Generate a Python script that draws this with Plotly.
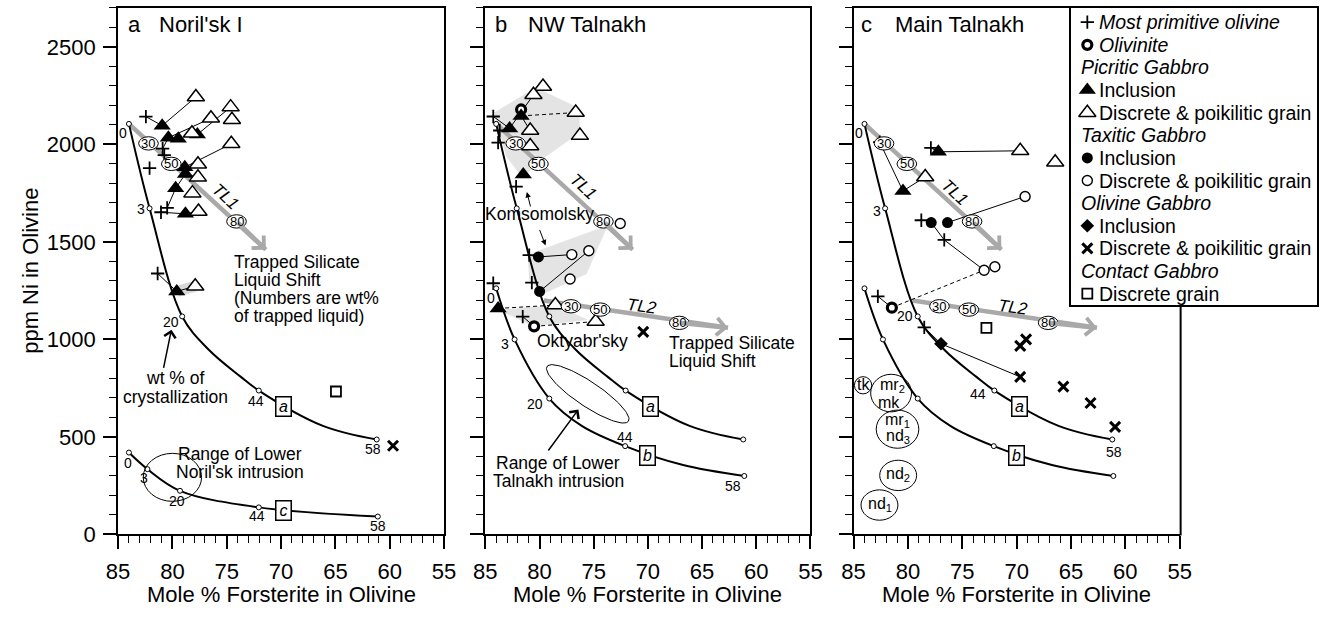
import numpy as np
import plotly.graph_objects as go

# ---------------- geometry of the page ----------------
W, H = 1336, 617
TOP_PX, BOTTOM_PX = 8, 546
PANEL_PX = [(108, 440), (482, 813), (857, 1189)]
LEGEND_PX = (1078, 1329, 8, 312)
FO_MAX, FO_MIN = 85, 55
NI_MAX = 2700
FONT = "Liberation Sans, Arial, Helvetica, sans-serif"

# ---------------- model crystallization curves ----------------
curve_a_fo = [84.0, 82.1, 79.1, 76.7, 73.7, 72.05, 66.15, 61.2]
curve_a_ni = [2105, 1672, 1118, 950, 808, 738, 557, 487]
curve_a_node_fo = [84.0, 82.1, 79.1, 72.05, 61.2]
curve_a_node_ni = [2105, 1672, 1118, 738, 487]
curve_b_fo = [84.0, 82.3, 79.1, 76.1, 72.1, 66.75, 61.1]
curve_b_ni = [1262, 1000, 697, 557, 453, 356, 300]
curve_b_node_fo = [84.0, 82.3, 79.1, 72.1, 61.1]
curve_b_node_ni = [1262, 1000, 697, 453, 300]
curve_c_fo = [84.0, 82.3, 79.3, 72.05, 61.1]
curve_c_ni = [420, 335, 224, 139, 92]
cryst_labels = ["0", "3", "20", "44", "58"]
curve_box_fo = {"a": 69.75, "b": 70.05, "c": 69.8}
curve_box_ni = {"a": 655, "b": 405, "c": 124}

# trapped liquid shift vectors
tl1_fo = [84.0, 71.4]
tl1_ni = [2105, 1460]
tl1_lab_fo = [82.2, 80.1, 74.1]
tl1_lab_ni = [2005, 1900, 1605]
tl2_fo = [79.6, 62.6]
tl2_ni = [1200, 1060]
tl2_lab_fo = [77.1, 74.4, 67.1]
tl2_lab_ni = [1170, 1153, 1085]
tl_labels = ["30", "50", "80"]

# ---------------- panel a: Noril'sk I ----------------
a_plus_fo = [82.44, 80.9, 80.75, 82.1, 81.05, 80.48, 81.36]
a_plus_ni = [2142, 1978, 1945, 1878, 1652, 1674, 1338]
a_pic_inc_fo = [80.94, 80.37, 79.46, 77.7, 78.86, 78.8, 79.7, 78.8, 79.6]
a_pic_inc_ni = [2096, 2034, 2029, 2051, 1883, 1848, 1775, 1644, 1246]
a_pic_dis_fo = [77.84, 74.64, 74.52, 76.45, 78.2, 74.58, 77.65, 77.65, 78.16, 77.6, 77.9]
a_pic_dis_ni = [2243, 2191, 2126, 2134, 2057, 2003, 1898, 1831, 1750, 1656, 1273]
a_ol_dis_fo = [59.7]
a_ol_dis_ni = [455]
a_con_fo = [64.95]
a_con_ni = [733]
a_links = [
    [(82.44, 2142), (80.94, 2096), (77.84, 2243)],
    [(80.9, 1978), (80.37, 2034), (76.45, 2134)],
    [(77.7, 2051), (74.64, 2191)],
    [(78.86, 1883), (74.58, 2003)],
    [(80.48, 1674), (79.7, 1775), (78.8, 1848), (77.65, 1831)],
    [(81.05, 1652), (78.8, 1644), (77.6, 1656)],
    [(81.36, 1338), (79.6, 1246), (77.9, 1273)],
]
a_band = [(79.6, 1246), (77.9, 1273)]

# ---------------- panel b: NW Talnakh ----------------
b_plus_fo = [84.27, 83.67, 83.82, 82.16, 80.95, 80.71, 84.27, 81.55]
b_plus_ni = [2143, 2071, 2009, 1783, 1432, 1291, 1288, 1117]
b_oliv_fo = [81.7, 80.5]
b_oliv_ni = [2179, 1067]
b_pic_inc_fo = [82.76, 81.7, 81.5, 83.82]
b_pic_inc_ni = [2082, 2146, 1845, 1159]
b_pic_dis_fo = [79.68, 80.56, 76.66, 76.27, 80.86, 80.86, 78.54, 74.82]
b_pic_dis_ni = [2297, 2254, 2163, 2045, 2071, 1992, 1176, 1092]
b_tax_inc_fo = [80.1, 79.99]
b_tax_inc_ni = [1423, 1246]
b_tax_dis_fo = [77.02, 75.45, 77.18, 72.55]
b_tax_dis_ni = [1435, 1455, 1310, 1594]
b_ol_dis_fo = [70.43]
b_ol_dis_ni = [1039]
b_links = [
    [(84.27, 2143), (82.76, 2082), (80.56, 2254)],
    [(81.7, 2146), (80.86, 2071)],
    [(80.95, 1432), (80.1, 1423), (77.02, 1435)],
    [(79.99, 1246), (75.45, 1455)],
    [(81.55, 1117), (80.5, 1067)],
]
b_dashed = [
    [(81.7, 2146), (76.66, 2163)],
    [(83.82, 1159), (78.54, 1176)],
    [(80.5, 1067), (74.82, 1092)],
]
b_shade1_fo = [84.18, 80.35, 76.3, 76.3, 80.04, 81.55, 83.07]
b_shade1_ni = [2163, 2292, 2185, 2060, 1912, 1828, 1937]
b_shade2_fo = [81.1, 73.69, 75.66, 79.59, 80.95]
b_shade2_ni = [1435, 1586, 1335, 1234, 1301]
b_shade3_fo = [83.98, 78.54, 75.5, 80.65, 82.46]
b_shade3_ni = [1151, 1176, 1100, 1067, 1117]

# ---------------- panel c: Main Talnakh ----------------
c_plus_fo = [77.89, 78.77, 76.66, 82.77, 78.5, 82.6]
c_plus_ni = [1982, 1611, 1510, 1221, 1062, 2012]
c_oliv_fo = [81.48]
c_oliv_ni = [1163]
c_pic_inc_fo = [77.2, 80.46]
c_pic_inc_ni = [1962, 1761]
c_pic_dis_fo = [69.67, 66.45, 78.41]
c_pic_dis_ni = [1967, 1908, 1833]
c_tax_inc_fo = [77.86, 76.36]
c_tax_inc_ni = [1599, 1599]
c_tax_dis_fo = [69.22, 72.99, 72.0]
c_tax_dis_ni = [1733, 1355, 1373]
c_ol_inc_fo = [76.96]
c_ol_inc_ni = [978]
c_ol_dis_fo = [69.67, 69.13, 69.67, 65.7, 63.2, 60.94]
c_ol_dis_ni = [967, 1000, 808, 758, 674, 552]
c_con_fo = [72.78]
c_con_ni = [1059]
c_links = [
    [(77.89, 1982), (77.2, 1962), (69.67, 1967)],
    [(82.6, 2012), (80.46, 1761), (78.41, 1833)],
    [(76.36, 1599), (69.22, 1733)],
    [(77.86, 1599), (76.66, 1510), (72.99, 1355)],
    [(82.77, 1221), (81.48, 1163)],
    [(78.5, 1062), (76.96, 978), (69.67, 808)],
]
c_dashed = [[(81.48, 1163), (72.99, 1355)]]

# circled sample labels in panel c
c_circle_lab_fo = [84.13, 81.55, 80.96, 80.9, 82.62]
c_circle_lab_ni = [765, 725, 540, 303, 151]
c_circle_rx = [8.8, 20.8, 21.7, 18.8, 18.8]
c_circle_ry = [8.8, 19.2, 19.5, 15.5, 15.5]
c_text = ["tk", "mr<sub>2</sub>", "mk", "mr<sub>1</sub>", "nd<sub>3</sub>", "nd<sub>2</sub>", "nd<sub>1</sub>"]
c_text_fo = [84.07, 81.45, 81.72, 81.0, 80.95, 80.9, 82.6]
c_text_ni = [768, 762, 678, 586, 500, 306, 154]

# legend rows (symbol key, label)
legend_rows = [
    ("plus", "<i>Most primitive olivine</i>"),
    ("oliv", "<i>Olivinite</i>"),
    (None, "<i>Picritic Gabbro</i>"),
    ("pic_inc", "Inclusion"),
    ("pic_dis", "Discrete & poikilitic grain"),
    (None, "<i>Taxitic Gabbro</i>"),
    ("tax_inc", "Inclusion"),
    ("tax_dis", "Discrete & poikilitic grain"),
    (None, "<i>Olivine Gabbro</i>"),
    ("ol_inc", "Inclusion"),
    ("ol_dis", "Discrete & poikilitic grain"),
    (None, "<i>Contact Gabbro</i>"),
    ("con_dis", "Discrete grain"),
]

# ---------------- styles ----------------
BLK = "black"
GRAY_ARROW = "#a9a9a9"
GRAY_FILL = "#e4e4e4"
STYLE = {
    "plus": dict(symbol="cross-thin", size=9.5, color=BLK, line=dict(width=1.8, color=BLK)),
    "oliv": dict(symbol="circle", size=9, color="white", line=dict(width=3.2, color=BLK)),
    "pic_inc": dict(symbol="triangle-up", size=15, color=BLK, line=dict(width=0)),
    "pic_dis": dict(symbol="triangle-up", size=15, color="white", line=dict(width=1.5, color=BLK)),
    "tax_inc": dict(symbol="circle", size=11, color=BLK, line=dict(width=0)),
    "tax_dis": dict(symbol="circle", size=10, color="white", line=dict(width=1.4, color=BLK)),
    "ol_inc": dict(symbol="diamond", size=10.5, color=BLK, line=dict(width=0)),
    "ol_dis": dict(symbol="x-thin", size=10, color=BLK, line=dict(width=3, color=BLK)),
    "con_dis": dict(symbol="square", size=10, color="white", line=dict(width=1.8, color=BLK)),
}

XA = ["x", "x2", "x3"]
YA = ["y", "y2", "y3"]
PX_NI = (BOTTOM_PX - TOP_PX) / NI_MAX


def px_fo(p):
    return (PANEL_PX[p][1] - PANEL_PX[p][0]) / (FO_MAX - FO_MIN)


fig = go.Figure()


def add(p, fo, ni, **kw):
    fig.add_trace(go.Scatter(x=fo, y=ni, xaxis=XA[p], yaxis=YA[p], showlegend=False,
                             hoverinfo="skip", **kw))


def polylines(p, segs, dash="solid", width=1, color=BLK):
    xs, ys = [], []
    for s in segs:
        xs += [q[0] for q in s] + [None]
        ys += [q[1] for q in s] + [None]
    add(p, xs, ys, mode="lines", line=dict(color=color, width=width, dash=dash))


def ann(p, fo, ni, text, size=17.5, **kw):
    d = dict(x=fo, y=ni, xref=XA[p], yref=YA[p], text=text, showarrow=False,
             font=dict(family=FONT, size=size, color=BLK))
    d.update(kw)
    fig.add_annotation(**d)


def arrow(p, fo_head, ni_head, fo_tail, ni_tail, color=BLK, width=1.5, head=4, size=1.5):
    fig.add_annotation(x=fo_head, y=ni_head, ax=fo_tail, ay=ni_tail, xref=XA[p], yref=YA[p],
                       axref=XA[p], ayref=YA[p], text="", showarrow=True, arrowhead=head,
                       arrowsize=size, arrowwidth=width, arrowcolor=color, standoff=0)


def ellipse(p, fo, ni, rx, ry, fill="rgba(0,0,0,0)", width=1):
    k = px_fo(p)
    fig.add_shape(type="circle", xref=XA[p], yref=YA[p], x0=fo + rx / k, x1=fo - rx / k,
                  y0=ni - ry / PX_NI, y1=ni + ry / PX_NI, fillcolor=fill,
                  line=dict(color=BLK, width=width), layer="above")


# ---------------- background shading ----------------
for sf, sn in [(b_shade1_fo, b_shade1_ni), (b_shade2_fo, b_shade2_ni), (b_shade3_fo, b_shade3_ni)]:
    add(1, sf + [sf[0]], sn + [sn[0]], mode="lines", fill="toself", fillcolor=GRAY_FILL,
        line=dict(width=0, color=GRAY_FILL))
add(0, [q[0] for q in a_band], [q[1] for q in a_band], mode="lines",
    line=dict(color="#d8d8d8", width=11))

# rotated ellipse "Range of Lower Talnakh intrusion" (panel b)
ell_center_fo, ell_center_ni = 75.55, 721
ell_a_px, ell_b_px, ell_angle = 50, 12.5, np.deg2rad(34)
t = np.linspace(0, 2 * np.pi, 121)
dx = ell_a_px * np.cos(ell_angle) * np.cos(t) - ell_b_px * np.sin(ell_angle) * np.sin(t)
dy = ell_a_px * np.sin(ell_angle) * np.cos(t) + ell_b_px * np.cos(ell_angle) * np.sin(t)
add(1, list(ell_center_fo - dx / px_fo(1)), list(ell_center_ni - dy / PX_NI), mode="lines",
    line=dict(color=BLK, width=1))

# ---------------- TL shift shafts ----------------
panel_tls = {0: [1], 1: [1, 2], 2: [1, 2]}
for p, tls in panel_tls.items():
    for k in tls:
        fo, ni = (tl1_fo, tl1_ni) if k == 1 else (tl2_fo, tl2_ni)
        add(p, fo, ni, mode="lines", line=dict(color=GRAY_ARROW, width=4.5))

# ---------------- model curves ----------------
panel_curves = {0: ["a", "c"], 1: ["a", "b"], 2: ["a", "b"]}
CURVES = {"a": (curve_a_fo, curve_a_ni, curve_a_node_fo, curve_a_node_ni),
          "b": (curve_b_fo, curve_b_ni, curve_b_node_fo, curve_b_node_ni),
          "c": (curve_c_fo, curve_c_ni, curve_c_fo, curve_c_ni)}
for p, names in panel_curves.items():
    for nm in names:
        cf, cn, _, _ = CURVES[nm]
        add(p, cf, cn, mode="lines", line=dict(color=BLK, width=2, shape="spline", smoothing=1.0))

# ---------------- tie lines ----------------
polylines(0, a_links)
polylines(1, b_links)
polylines(1, b_dashed, dash="4px,3px")
polylines(2, c_links)
polylines(2, c_dashed, dash="4px,3px")

# ---------------- data markers ----------------
PANEL_POINTS = [
    {"plus": (a_plus_fo, a_plus_ni), "pic_inc": (a_pic_inc_fo, a_pic_inc_ni),
     "pic_dis": (a_pic_dis_fo, a_pic_dis_ni), "ol_dis": (a_ol_dis_fo, a_ol_dis_ni),
     "con_dis": (a_con_fo, a_con_ni)},
    {"plus": (b_plus_fo, b_plus_ni), "oliv": (b_oliv_fo, b_oliv_ni),
     "pic_inc": (b_pic_inc_fo, b_pic_inc_ni), "pic_dis": (b_pic_dis_fo, b_pic_dis_ni),
     "tax_inc": (b_tax_inc_fo, b_tax_inc_ni), "tax_dis": (b_tax_dis_fo, b_tax_dis_ni),
     "ol_dis": (b_ol_dis_fo, b_ol_dis_ni)},
    {"plus": (c_plus_fo, c_plus_ni), "oliv": (c_oliv_fo, c_oliv_ni),
     "pic_inc": (c_pic_inc_fo, c_pic_inc_ni), "pic_dis": (c_pic_dis_fo, c_pic_dis_ni),
     "tax_inc": (c_tax_inc_fo, c_tax_inc_ni), "tax_dis": (c_tax_dis_fo, c_tax_dis_ni),
     "ol_inc": (c_ol_inc_fo, c_ol_inc_ni), "ol_dis": (c_ol_dis_fo, c_ol_dis_ni),
     "con_dis": (c_con_fo, c_con_ni)},
]
for p, pts in enumerate(PANEL_POINTS):
    for key, (fo, ni) in pts.items():
        add(p, fo, ni, mode="markers", marker=STYLE[key])

# curve nodes (small open circles)
for p, names in panel_curves.items():
    for nm in names:
        _, _, nf, nn = CURVES[nm]
        add(p, nf, nn, mode="markers",
            marker=dict(symbol="circle", size=5, color="white", line=dict(width=1, color=BLK)))

# ---------------- curve labels ----------------
label_offsets = {
    (0, "a"): [(-6, 9), (-8.5, 1), (-11, 6), (-3, 10), (-4, 9)],
    (0, "c"): [(-1, 10), (-3, 9), (-3, 10), (-2, 9), (0, 9)],
    (1, "b"): [(-5, 10), (-10, 5), (-14, 5), (0, -9), (-11, 10)],
    (2, "a"): [(-5, 9), (-8, 3), (-13, 0), (-16, 3), (2, 12)],
}
for (p, nm), offs in label_offsets.items():
    _, _, nf, nn = CURVES[nm]
    for f, n, lab, (ox, oy) in zip(nf, nn, cryst_labels, offs):
        ann(p, f, n, lab, size=14, xshift=ox, yshift=-oy)

for p, names in panel_curves.items():
    for nm in names:
        ann(p, curve_box_fo[nm], curve_box_ni[nm], "<i>%s</i>" % nm, size=16,
            bgcolor="white", bordercolor=BLK, borderwidth=1.5, borderpad=1, width=12, height=16)

# ---------------- TL labels and arrowheads ----------------
for p, tls in panel_tls.items():
    for k in tls:
        if k == 1:
            fo, ni, lf, ln = tl1_fo, tl1_ni, tl1_lab_fo, tl1_lab_ni
        else:
            fo, ni, lf, ln = tl2_fo, tl2_ni, tl2_lab_fo, tl2_lab_ni
        arrow(p, fo[1], ni[1], lf[2], ln[2], color=GRAY_ARROW, width=4.5, head=4, size=0.75)
        for f, n, lab in zip(lf, ln, tl_labels):
            ellipse(p, f, n, 10, 6.8, fill="white")
            ann(p, f, n, lab, size=13)
tl_text = {0: [(1, 75.13, 1733)], 1: [(1, 75.96, 1786), (2, 70.5, 1170)],
           2: [(1, 75.7, 1753), (2, 70.3, 1162)]}
for p, items in tl_text.items():
    for k, f, n in items:
        ann(p, f, n, "<i>TL%d</i>" % k, size=17, textangle=43 if k == 1 else 8)

# ---------------- panel texts ----------------
LINE_PPM = 18.4 / PX_NI
# panel a
for i, line in enumerate(["Trapped Silicate", "Liquid Shift", "(Numbers are wt%", "of trapped liquid)"]):
    ann(0, 74.2, 1395 - i * LINE_PPM, line, xanchor="left", xshift=-3)
ann(0, 79.7, 803, "wt % of")
ann(0, 79.7, 706, "crystallization")
arrow(0, 80.09, 1050, 80.84, 846, width=1.5, head=4, size=1.5)
ann(0, 73.8, 415, "Range of Lower")
ann(0, 73.8, 318, "Noril'sk intrusion")
ellipse(0, 80.0, 293, 29.7, 24.5)
# panel b
ann(1, 84.9, 1644, "Komsomolsky", xanchor="left", xshift=-3)
arrow(1, 81.17, 1756, 80.8, 1674, width=1, head=2, size=1.1)
arrow(1, 79.44, 1482, 80.04, 1569, width=1, head=2, size=1.1)
ann(1, 76.05, 992, "Oktyabr'sky")
for i, line in enumerate(["Trapped Silicate", "Liquid Shift"]):
    ann(1, 67.96, 980 - i * LINE_PPM, line, xanchor="left", xshift=-3)
ann(1, 78.25, 365, "Range of Lower")
ann(1, 78.25, 272, "Talnakh intrusion")
arrow(1, 76.41, 641, 79.29, 423, width=1.5, head=4, size=1.5)
# panel c circled sample fields
for f, n, rx, ry in zip(c_circle_lab_fo, c_circle_lab_ni, c_circle_rx, c_circle_ry):
    ellipse(2, f, n, rx, ry)
for f, n, txt in zip(c_text_fo, c_text_ni, c_text):
    ann(2, f, n, txt, size=16)

# panel titles and axis titles
titles = [("a", "Noril'sk I", 118, 150), ("b", "NW Talnakh", 491.7, 525), ("c", "Main Talnakh", 865, 899)]
for p, (letter, name, xl, xn) in enumerate(titles):
    L, R = PANEL_PX[p]
    for txt, xp in [(letter, xl), (name, xn)]:
        fig.add_annotation(x=(xp - L) / (R - L), y=(BOTTOM_PX - 25) / (BOTTOM_PX - TOP_PX),
                           xref=XA[p] + " domain", yref=YA[p] + " domain", text=txt, showarrow=False,
                           xanchor="left", yanchor="middle", xshift=-2,
                           font=dict(family=FONT, size=22, color=BLK))
    fig.add_annotation(x=0.5, y=1 - 607 / H, xref=XA[p] + " domain", yref="paper",
                       text="Mole % Forsterite in Olivine", showarrow=False, xanchor="center",
                       yanchor="middle", font=dict(family=FONT, size=22, color=BLK))
fig.add_annotation(x=18 / W, y=1 - (TOP_PX + BOTTOM_PX) / 2 / H, xref="paper", yref="paper",
                   text="ppm Ni in Olivine", showarrow=False, textangle=-90, xanchor="center",
                   yanchor="middle", font=dict(family=FONT, size=22, color=BLK))

# ---------------- legend (drawn in its own box) ----------------
for i, (key, label) in enumerate(legend_rows):
    yrow = 22.7 + 23.1 * i
    if key is None:
        fig.add_annotation(x=1087, y=yrow, xref="x4", yref="y4", text=label, showarrow=False,
                           xanchor="left", font=dict(family=FONT, size=19.5, color=BLK))
    else:
        fig.add_trace(go.Scatter(x=[1095], y=[yrow], xaxis="x4", yaxis="y4", mode="markers",
                                 marker=STYLE[key], showlegend=False, hoverinfo="skip"))
        fig.add_annotation(x=1105, y=yrow, xref="x4", yref="y4", text=label, showarrow=False,
                           xanchor="left", font=dict(family=FONT, size=19.5, color=BLK))

# ---------------- axes ----------------
common = dict(showline=True, linecolor=BLK, linewidth=2, ticks="outside", ticklen=13, tickwidth=1.5,
              tickcolor=BLK, showgrid=False, zeroline=False, fixedrange=True,
              tickfont=dict(family=FONT, size=22, color=BLK))
lay = {}
for p in range(3):
    L, R = PANEL_PX[p]
    xname = "xaxis" if p == 0 else "xaxis%d" % (p + 1)
    yname = "yaxis" if p == 0 else "yaxis%d" % (p + 1)
    lay[xname] = dict(common, domain=[L / W, R / W], range=[FO_MAX, FO_MIN], dtick=5, tick0=55,
                      anchor=YA[p], mirror=True, ticklabelstandoff=3,
                      minor=dict(dtick=1, tick0=55, ticks="outside", ticklen=7, tickwidth=1.2,
                                 tickcolor=BLK, showgrid=False))
    lay[yname] = dict(common, domain=[1 - BOTTOM_PX / H, 1 - TOP_PX / H], range=[0, NI_MAX],
                      dtick=500, tick0=0, anchor=XA[p], mirror=(p < 2), showticklabels=(p == 0),
                      ticklabelstandoff=3,
                      minor=dict(dtick=100, tick0=0, ticks="outside", ticklen=7, tickwidth=1.2,
                                 tickcolor=BLK, showgrid=False))
lx0, lx1, ly0, ly1 = LEGEND_PX
lay["xaxis4"] = dict(domain=[lx0 / W, lx1 / W], range=[lx0, lx1], showline=True, mirror=True,
                     linecolor=BLK, linewidth=2, showticklabels=False, ticks="", showgrid=False,
                     zeroline=False, fixedrange=True, anchor="y4")
lay["yaxis4"] = dict(domain=[1 - ly1 / H, 1 - ly0 / H], range=[ly1, ly0], showline=True, mirror=True,
                     linecolor=BLK, linewidth=2, showticklabels=False, ticks="", showgrid=False,
                     zeroline=False, fixedrange=True, anchor="x4")

# right border of panel c below the legend box
fig.add_shape(type="line", xref="paper", yref="paper", x0=(PANEL_PX[2][1] + 1) / W,
              x1=(PANEL_PX[2][1] + 1) / W, y0=1 - (BOTTOM_PX + 1) / H, y1=1 - ly1 / H,
              line=dict(color=BLK, width=2))

fig.update_layout(width=W, height=H, margin=dict(l=0, r=0, t=0, b=0), paper_bgcolor="white",
                  plot_bgcolor="white", showlegend=False, font=dict(family=FONT, color=BLK), **lay)
fig.write_html("out.html")
